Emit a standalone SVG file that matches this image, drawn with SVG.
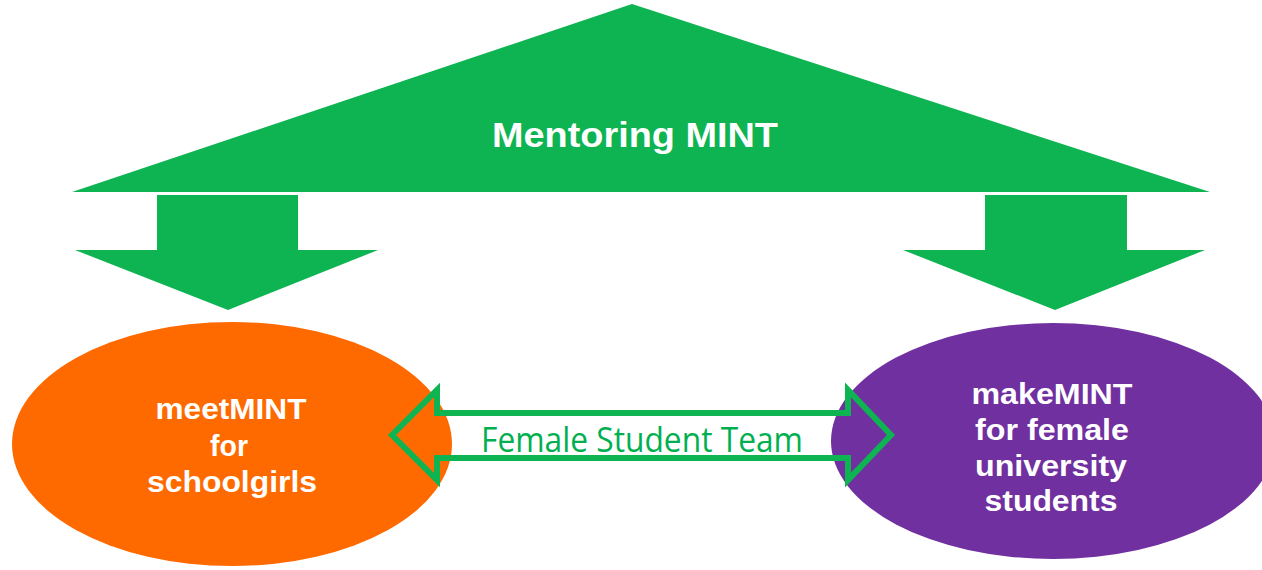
<svg xmlns="http://www.w3.org/2000/svg" width="1262" height="570" viewBox="0 0 1262 570">
<style>
.g{fill:#0DB451}
.lbl{font-family:"Liberation Sans",Arial,sans-serif;font-weight:bold;fill:#FFFFFF;text-anchor:middle}
.cap{font-family:"Open Sans","Noto Sans","Liberation Sans",sans-serif;fill:#00B050;text-anchor:middle}
</style>
<rect width="1262" height="570" fill="#FFFFFF"/>
<g id="mentoring">
<polygon class="g" points="632,4 1210,192 72,192"/>
<text class="lbl" x="635" y="147" font-size="35" textLength="286" lengthAdjust="spacingAndGlyphs">Mentoring MINT</text>
</g>
<g id="meetmint">
<ellipse cx="232" cy="444" rx="220" ry="122" fill="#FF6A00"/>
<text class="lbl" font-size="29" x="231" y="419" textLength="151" lengthAdjust="spacingAndGlyphs">meetMINT</text>
<text class="lbl" font-size="29" x="229" y="456" textLength="38" lengthAdjust="spacingAndGlyphs">for</text>
<text class="lbl" font-size="29" x="232" y="492" textLength="170" lengthAdjust="spacingAndGlyphs">schoolgirls</text>
</g>
<g id="makemint">
<ellipse cx="1053" cy="441" rx="222" ry="118" fill="#7030A0"/>
<text class="lbl" font-size="29" x="1052" y="404" textLength="161" lengthAdjust="spacingAndGlyphs">makeMINT</text>
<text class="lbl" font-size="29" x="1052" y="440" textLength="154" lengthAdjust="spacingAndGlyphs">for female</text>
<text class="lbl" font-size="29" x="1051" y="476" textLength="152" lengthAdjust="spacingAndGlyphs">university</text>
<text class="lbl" font-size="29" x="1051" y="511" textLength="133" lengthAdjust="spacingAndGlyphs">students</text>
</g>
<g id="connectors">
<polygon class="g" points="157,195 298,195 298,250 378,250 228,310 75,250 157,250"/>
<polygon class="g" points="985,195 1127,195 1127,250 1205,250 1055,310 903,250 985,250"/>
<path d="M392,435 L437,390 L437,413 L848,413 L848,390 L891,435 L848,480 L848,458 L437,458 L437,480 Z" fill="none" stroke="#0DB451" stroke-width="6" stroke-linejoin="miter"/>
<text class="cap" x="642" y="452" font-size="34" textLength="322" lengthAdjust="spacingAndGlyphs">Female Student Team</text>
</g>
</svg>
